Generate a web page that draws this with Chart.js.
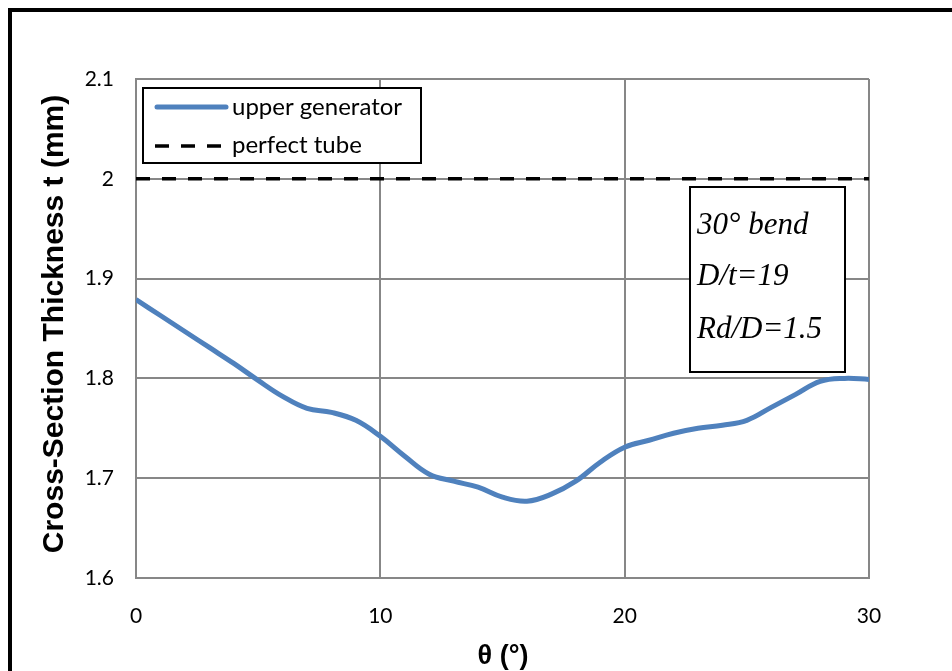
<!DOCTYPE html>
<html>
<head>
<meta charset="utf-8">
<script src="https://cdn.jsdelivr.net/npm/chart.js@4/dist/chart.umd.min.js"></script>
<style>
html,body{margin:0;padding:0;background:#fff;overflow:hidden;}
canvas{display:block;}
</style>
</head>
<body>
<canvas id="c" width="952" height="671"></canvas>
<script>
// ---- data ----
const thetaDeg = [0,1,2,3,4,5,6,7,8,9,10,11,12,13,14,15,16,17,18,19,20,21,22,23,24,25,26,27,28,29,30];
const upperGenerator = [1.879,1.863,1.847,1.831,1.815,1.798,1.782,1.770,1.766,1.758,1.742,1.722,1.704,1.697,1.691,1.681,1.677,1.684,1.697,1.716,1.731,1.738,1.745,1.750,1.753,1.758,1.771,1.784,1.797,1.800,1.799];
const perfectTubeX = [0, 30];
const perfectTubeY = [2.0, 2.0];
const seriesNames = ['upper generator', 'perfect tube'];
const xTitle = 'θ (°)';
const yTitle = 'Cross-Section Thickness t (mm)';
const noteLines = ['30° bend', 'D/t=19', 'Rd/D=1.5'];

const TICK_FONT = "Lato, 'Liberation Sans', Arial, sans-serif";
const BLUE = '#4f81bd';
const GRID = '#878787';

const overlay = {
  id: 'overlay',
  afterDraw(chart) {
    const ctx = chart.ctx;
    ctx.save();
    // outer frame
    ctx.strokeStyle = '#000';
    ctx.lineWidth = 4;
    ctx.strokeRect(10, 10, 1100, 1100);

    // y title
    ctx.fillStyle = '#000';
    ctx.font = "bold 30px 'Liberation Sans', Arial, sans-serif";
    ctx.textAlign = 'center';
    ctx.textBaseline = 'middle';
    ctx.save();
    ctx.translate(55, 324);
    ctx.rotate(-Math.PI / 2);
    ctx.fillText(yTitle, 0, 0);
    ctx.restore();

    // x title
    ctx.font = "bold 27px 'Liberation Sans', Arial, sans-serif";
    ctx.fillText(xTitle, 503, 657);

    // legend box
    const lx = 143, ly = 88, lw = 278, lh = 75;
    ctx.fillStyle = '#fff';
    ctx.fillRect(lx, ly, lw, lh);
    ctx.strokeStyle = '#000';
    ctx.lineWidth = 2;
    ctx.strokeRect(lx, ly, lw, lh);
    ctx.lineCap = 'round';
    ctx.strokeStyle = BLUE;
    ctx.lineWidth = 5;
    ctx.beginPath(); ctx.moveTo(157, 107); ctx.lineTo(226, 107); ctx.stroke();
    ctx.lineCap = 'butt';
    ctx.strokeStyle = '#000';
    ctx.lineWidth = 3.5;
    ctx.setLineDash([14, 12]);
    ctx.beginPath(); ctx.moveTo(155, 146); ctx.lineTo(230, 146); ctx.stroke();
    ctx.setLineDash([]);
    ctx.fillStyle = '#000';
    ctx.font = "24px " + TICK_FONT;
    ctx.textAlign = 'left';
    ctx.textBaseline = 'middle';
    ctx.fillText(seriesNames[0], 232, 107);
    ctx.fillText(seriesNames[1], 232, 145);

    // note box
    const nx = 690, ny = 187, nw = 155, nh = 185;
    ctx.fillStyle = '#fff';
    ctx.fillRect(nx, ny, nw, nh);
    ctx.strokeStyle = '#000';
    ctx.lineWidth = 2;
    ctx.strokeRect(nx, ny, nw, nh);
    ctx.fillStyle = '#000';
    ctx.font = "italic 31px 'Liberation Serif', 'Times New Roman', serif";
    ctx.textBaseline = 'alphabetic';
    ctx.fillText(noteLines[0], 697, 234);
    ctx.fillText(noteLines[1], 697, 285);
    ctx.fillText(noteLines[2], 697, 338);
    ctx.restore();
  }
};

new Chart(document.getElementById('c'), {
  type: 'line',
  data: {
    datasets: [
      {
        label: seriesNames[0],
        data: thetaDeg.map((x, i) => ({x: x, y: upperGenerator[i]})),
        borderColor: BLUE,
        borderWidth: 5,
        pointRadius: 0,
        tension: 0.4,
        fill: false,
        order: 1
      },
      {
        label: seriesNames[1],
        data: perfectTubeX.map((x, i) => ({x: x, y: perfectTubeY[i]})),
        borderColor: '#000',
        borderWidth: 3.5,
        borderDash: [14, 12],
        pointRadius: 0,
        tension: 0,
        fill: false,
        order: 0
      }
    ]
  },
  options: {
    responsive: false,
    devicePixelRatio: 1,
    animation: false,
    layout: {padding: {left: 0, top: 79, right: 83, bottom: 0}},
    plugins: {legend: {display: false}, tooltip: {enabled: false}},
    scales: {
      x: {
        type: 'linear',
        min: 0, max: 30,
        afterFit(s) { s.height = 93; },
        ticks: {stepSize: 10, color: '#000', padding: 26, font: {family: TICK_FONT, size: 21}},
        grid: {color: GRID, lineWidth: 2, drawTicks: false},
        border: {color: GRID, width: 2}
      },
      y: {
        type: 'linear',
        min: 1.6, max: 2.1,
        afterFit(s) { s.width = 136; },
        ticks: {
          stepSize: 0.1, color: '#000', padding: 22,
          font: {family: TICK_FONT, size: 21},
          callback: v => String(Number(v.toFixed(1)))
        },
        grid: {color: GRID, lineWidth: 2, drawTicks: false},
        border: {color: GRID, width: 2}
      }
    }
  },
  plugins: [overlay]
});
</script>
</body>
</html>
